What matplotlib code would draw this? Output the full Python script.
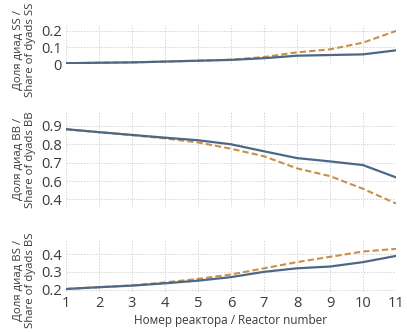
import matplotlib
matplotlib.use("Agg")
import matplotlib.pyplot as plt

plt.rcParams['font.family'] = ['Open Sans', 'DejaVu Sans']

reactor = [1, 2, 3, 4, 5, 6, 7, 8, 9, 10, 11]

# share of SS dyads
ss_solid = [0.005, 0.008, 0.010, 0.015, 0.020, 0.025, 0.035, 0.050, 0.054, 0.058, 0.082]
ss_dash = [0.005, 0.008, 0.010, 0.015, 0.020, 0.026, 0.042, 0.070, 0.088, 0.128, 0.198]
# share of BB dyads
bb_solid = [0.882, 0.866, 0.851, 0.836, 0.822, 0.800, 0.762, 0.725, 0.707, 0.687, 0.620]
bb_dash = [0.882, 0.866, 0.850, 0.832, 0.810, 0.776, 0.735, 0.669, 0.627, 0.558, 0.478]
# share of BS dyads
bs_solid = [0.203, 0.213, 0.222, 0.235, 0.250, 0.270, 0.300, 0.320, 0.330, 0.355, 0.390]
bs_dash = [0.203, 0.213, 0.223, 0.240, 0.260, 0.285, 0.320, 0.355, 0.385, 0.415, 0.430]

ylabels = ["Доля диад SS /\nShare of dyads SS",
           "Доля диад BB /\nShare of dyads BB",
           "Доля диад BS /\nShare of dyads BS"]
yticks = [[0, 0.1, 0.2], [0.5, 0.6, 0.7, 0.8, 0.9], [0.2, 0.3, 0.4]]
ytick_labels = [["0", "0.1", "0.2"], ["0.4", "0.6", "0.7", "0.8", "0.9"], ["0.2", "0.3", "0.4"]]
ylims = [(0, 0.234), (0.46, 0.978), (0.185, 0.48)]

solid_color = "#4d6786"
dash_color = "#c98f48"
text_color = "#3a3a3a"

fig = plt.figure(figsize=(4.07, 3.32), dpi=100)
# [left, bottom, width, height] in figure fraction
boxes = [[0.162, 0.807, 0.811, 0.118],
         [0.162, 0.377, 0.811, 0.287],
         [0.162, 0.120, 0.811, 0.157]]
label_y = [0.36, 0.5, 0.22]

series = [(ss_solid, ss_dash), (bb_solid, bb_dash), (bs_solid, bs_dash)]
for i, (solid, dash) in enumerate(series):
    ax = fig.add_axes(boxes[i])
    ax.plot(reactor, dash, color=dash_color, lw=1.5, ls=(0, (3, 1.5)), zorder=3)
    ax.plot(reactor, solid, color=solid_color, lw=1.6, zorder=4)
    ax.set_xlim(1, 11)
    ax.set_ylim(*ylims[i])
    ax.set_xticks(reactor)
    ax.set_yticks(yticks[i])
    ax.set_yticklabels(ytick_labels[i])
    ax.grid(True, color="#d4d4d4", ls=(0, (1.5, 1.5)), lw=0.7)
    for s in ax.spines.values():
        s.set_visible(False)
    ax.tick_params(length=0, labelsize=10.5, colors=text_color, pad=3)
    if i < 2:
        ax.tick_params(axis='x', labelbottom=False)
    ax.set_ylabel(ylabels[i], fontsize=8.2, color=text_color, linespacing=1.1)
    ax.yaxis.set_label_coords(-0.092, label_y[i])

ax.set_xlabel("Номер реактора / Reactor number", fontsize=8.5, color=text_color, labelpad=2)

fig.savefig("out.png", dpi=100)
